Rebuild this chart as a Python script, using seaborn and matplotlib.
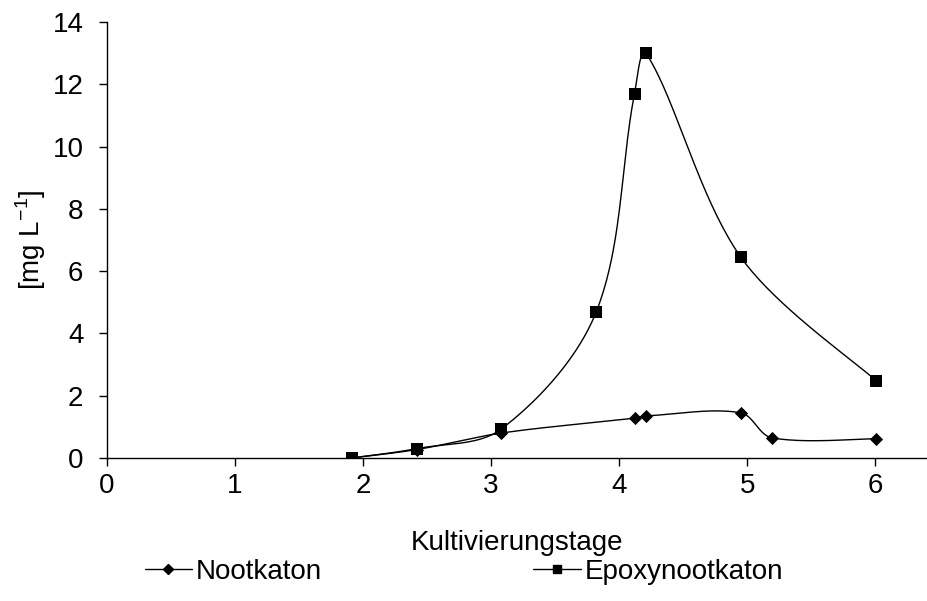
import numpy as np
import pandas as pd
import matplotlib
matplotlib.use('Agg')
import matplotlib.pyplot as plt
import seaborn as sns
from matplotlib.lines import Line2D

# Daten
nootkaton_tage = [1.91, 2.42, 3.08, 4.12, 4.21, 4.95, 5.19, 6.01]
nootkaton = [0.0, 0.27, 0.80, 1.28, 1.35, 1.45, 0.65, 0.62]
epoxy_tage = [1.91, 2.42, 3.08, 3.82, 4.12, 4.21, 4.95, 6.01]
epoxynootkaton = [0.0, 0.30, 0.93, 4.68, 11.7, 13.0, 6.45, 2.47]

XMAX, YMAX = 6.4, 14.0

sns.set_theme(style='white')
plt.rcParams['font.family'] = ['Liberation Sans', 'DejaVu Sans']
plt.rcParams['text.color'] = 'black'


def smooth(xs, ys, sx, sy, n=40, t=1 / 3.0):
    # Bezier-Glaettung (Bildschirmkoordinaten), Tangenten nach Segmentlaenge gewichtet
    p = np.column_stack([np.array(xs) * sx, np.array(ys) * sy])
    m = len(p)
    L = np.linalg.norm(np.diff(p, axis=0), axis=1)
    out = [p[0]]
    for i in range(m - 1):
        if i > 0:
            c1 = p[i] + (p[i + 1] - p[i - 1]) * L[i] / (L[i - 1] + L[i]) * t
        else:
            c1 = p[i] + (p[i + 1] - p[i]) * t * 0.5
        if i + 2 < m:
            c2 = p[i + 1] - (p[i + 2] - p[i]) * L[i] / (L[i] + L[i + 1]) * t
        else:
            c2 = p[i + 1] - (p[i + 1] - p[i]) * t * 0.5
        u = np.linspace(0, 1, n)[1:, None]
        seg = ((1 - u) ** 3 * p[i] + 3 * (1 - u) ** 2 * u * c1
               + 3 * (1 - u) * u ** 2 * c2 + u ** 3 * p[i + 1])
        out.extend(seg)
    out = np.array(out)
    return out[:, 0] / sx, out[:, 1] / sy


fig = plt.figure(figsize=(9.28, 6.01), dpi=100)
ax = fig.add_axes([0.1153, 0.238, 0.883, 0.7254])

sx = 821.0 / XMAX
sy = 437.0 / YMAX

df_n = pd.DataFrame({'x': nootkaton_tage, 'y': nootkaton})
df_e = pd.DataFrame({'x': epoxy_tage, 'y': epoxynootkaton})

xn, yn = smooth(nootkaton_tage, nootkaton, sx, sy)
xe, ye = smooth(epoxy_tage, epoxynootkaton, sx, sy)
ax.plot(xn, yn, color='black', lw=1.0)
ax.plot(xe, ye, color='black', lw=1.0)

sns.scatterplot(data=df_n, x='x', y='y', marker='D', s=45, color='black',
                edgecolor='black', linewidth=0, ax=ax, zorder=3)
sns.scatterplot(data=df_e, x='x', y='y', marker='s', s=75, color='black',
                edgecolor='black', linewidth=0, ax=ax, zorder=3)

ax.set_xlim(0, XMAX)
ax.set_ylim(0, YMAX)
ax.set_xticks(range(0, 7))
ax.set_yticks(range(0, 15, 2))
for s in ['top', 'right']:
    ax.spines[s].set_visible(False)
for s in ['left', 'bottom']:
    ax.spines[s].set_color('black')
    ax.spines[s].set_linewidth(1.0)
ax.tick_params(axis='both', direction='out', length=6, width=1, color='black',
               labelsize=20, labelcolor='black', bottom=True, left=True, pad=5)
ax.tick_params(axis='y', pad=11)
ax.set_xlabel('Kultivierungstage', fontsize=20, color='black')
ax.xaxis.set_label_coords(0.5, -0.165)
ax.set_ylabel('[mg L$^{\\mathregular{-1}}$]', fontsize=20, color='black')
ax.yaxis.set_label_coords(-0.072, 0.5)

h1 = Line2D([], [], color='black', lw=1, marker='D', markersize=5)
h2 = Line2D([], [], color='black', lw=1, marker='s', markersize=6)
fig.legend([h1, h2], ['Nootkaton', 'Epoxynootkaton'], loc='lower center',
           bbox_to_anchor=(0.5, -0.015), ncol=2, frameon=False, fontsize=20,
           labelcolor='black', columnspacing=7.6, handlelength=1.7,
           handletextpad=0.15)

fig.savefig('out.png', dpi=100)
